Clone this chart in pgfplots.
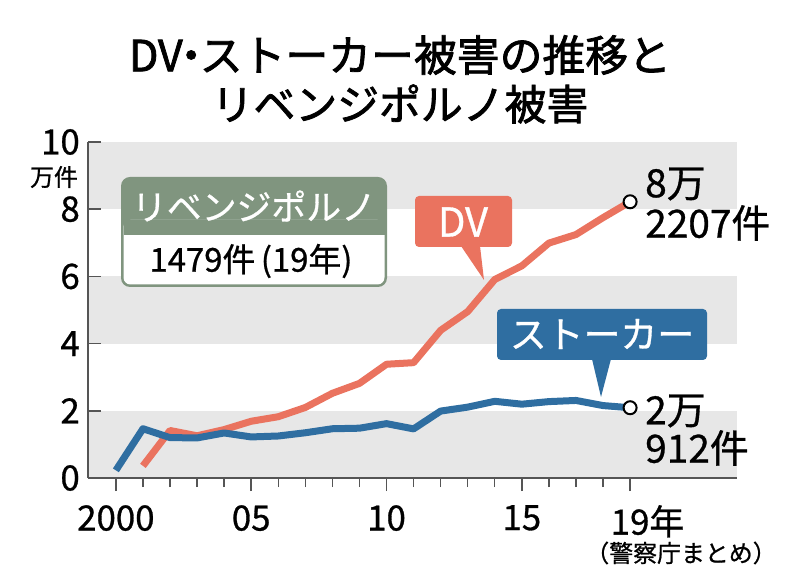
\documentclass[border=0pt]{standalone}
\usepackage{fontspec}
\setmainfont{Noto Sans CJK JP}
\newfontfamily\med{Noto Sans CJK JP}[FakeBold=0.8]
\newfontfamily\ttl{Noto Sans CJK JP}[FakeBold=1.8]
\usepackage{pgfplots}
\pgfplotsset{compat=1.18}
\definecolor{dvred}{HTML}{EA735F}
\definecolor{stblue}{HTML}{2F6EA1}
\definecolor{rpgreen}{HTML}{80957F}
\definecolor{band}{HTML}{E7E7E7}
\definecolor{spine}{HTML}{555555}
\newcommand{\fs}[1]{\fontsize{#1}{#1}\selectfont}
\begin{document}
\begin{tikzpicture}
\useasboundingbox (0,0) rectangle (808bp,580bp);
\begin{axis}[
  at={(88bp,102bp)}, anchor=south west,
  scale only axis, width=649bp, height=336bp,
  xmin=1998.97, xmax=2022.95, ymin=0, ymax=10,
  axis x line=bottom, axis y line=left,
  axis line style={-, spine, line width=1.6bp},
  axis on top,
  xtick={2000,2005,2010,2015,2019},
  xticklabels={2000,05,10,15,19\rlap{年}},
  minor xtick={2001,2002,2003,2004,2006,2007,2008,2009,2011,2012,2013,2014,2016,2017,2018},
  ytick={0,2,4,6,8,10},
  xtick align=outside, ytick align=inside,
  major tick length=13bp, minor tick length=9bp,
  every tick/.style={spine, line width=1.6bp},
  minor tick style={spine, line width=1.4bp},
  /pgf/number format/assume math mode=true,
  yticklabel style={font=\med\fs{35}, anchor=east, inner sep=0pt, xshift=-8bp},
  xticklabel style={font=\med\fs{35}, anchor=north, inner sep=0pt, yshift=-14bp},
  clip=false,
]
\fill[band] (axis cs:1998.97,0) rectangle (axis cs:2022.95,2);
\fill[band] (axis cs:1998.97,4) rectangle (axis cs:2022.95,6);
\fill[band] (axis cs:1998.97,8) rectangle (axis cs:2022.95,10);
\addplot[dvred, line width=7bp, line join=round] coordinates {
(2001,0.3608) (2002,1.4140) (2003,1.2568) (2004,1.4410) (2005,1.6888)
(2006,1.8236) (2007,2.0992) (2008,2.5210) (2009,2.8158) (2010,3.3852)
(2011,3.4329) (2012,4.3950) (2013,4.9533) (2014,5.9072) (2015,6.3141)
(2016,6.9908) (2017,7.2455) (2018,7.7482) (2019,8.2207)};
\addplot[stblue, line width=7bp, line join=round] coordinates {
(2000,0.2280) (2001,1.4662) (2002,1.2024) (2003,1.1923) (2004,1.3403)
(2005,1.2220) (2006,1.2501) (2007,1.3463) (2008,1.4657) (2009,1.4823)
(2010,1.6176) (2011,1.4618) (2012,1.9920) (2013,2.1089) (2014,2.2823)
(2015,2.1968) (2016,2.2737) (2017,2.3079) (2018,2.1556) (2019,2.0912)};
\addplot[only marks, mark=*, mark size=6.5bp, mark options={fill=white, draw=black, line width=2bp}]
 coordinates {(2019,8.2207) (2019,2.0912)};
\end{axis}
\begin{scope}[x=1bp, y=-1bp, shift={(0,580bp)}]
% title
\node[font=\ttl\fs{43}] at (400,55) {DV\hspace{-0.3em}・\hspace{-0.3em}ストーカー被害の推移と};
\node[font=\ttl\fs{42}] at (400,104) {リベンジポルノ被害};
\node[font=\med\fs{24}] at (54,177) {万件};
% revenge porn box
\fill[rpgreen, rounded corners=9bp] (121,177) rectangle (387,287);
\fill[white, rounded corners=7bp] (123.5,220) rectangle (384.5,284.5);
\fill[rpgreen] (123.5,220) rectangle (384.5,235);
\node[white, font=\med\fs{35}] at (254,206) {リベンジポルノ};
\node[font=\med\fs{33}] at (251,261) {1479件\,(19年)};
% DV box
\fill[dvred, rounded corners=4bp] (415,196) rectangle (512,247);
\fill[dvred] (461,246) -- (480,246) -- (484,280) -- cycle;
\node[white, font=\med\fs{40}] at (463,222) {DV};
% stalker box
\fill[stblue, rounded corners=4bp] (497,309) rectangle (707,360);
\fill[stblue] (592,359) -- (611,359) -- (601,397) -- cycle;
\node[white, font=\med\fs{37}] at (602,334) {ストーカー};
% end labels
\node[anchor=west, inner sep=0pt, font=\med\fs{39}] at (645,184) {8万};
\node[anchor=west, inner sep=0pt, font=\med\fs{39}] at (645,223) {2207件};
\node[anchor=west, inner sep=0pt, font=\med\fs{39}] at (645,411) {2万};
\node[anchor=west, inner sep=0pt, font=\med\fs{39}] at (645,448) {912件};
\node[font=\med\fs{24}] at (681,553) {（警察庁まとめ）};
\end{scope}
\end{tikzpicture}
\end{document}
